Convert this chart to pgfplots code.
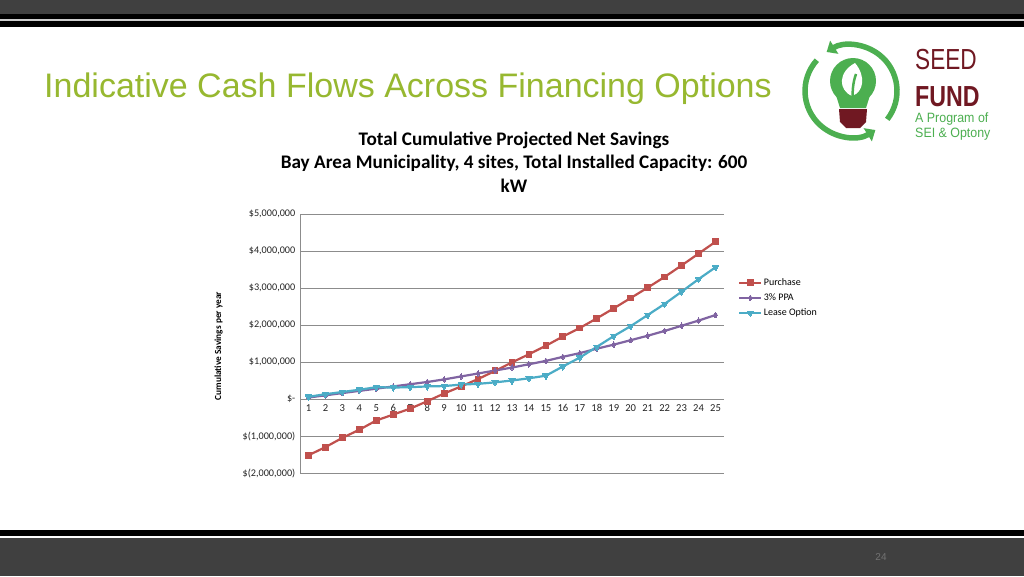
\documentclass[border=0pt]{standalone}
\usepackage{pgfplots}
\pgfplotsset{compat=1.18}
\usepackage{fontspec}
\setmainfont{Liberation Sans}
\newfontfamily\carlito{Carlito}
\usetikzlibrary{arrows.meta}

\definecolor{bargray}{RGB}{64,64,64}
\definecolor{slidegreen}{RGB}{151,184,48}
\definecolor{logogreen}{RGB}{76,175,80}
\definecolor{logomaroon}{RGB}{112,24,34}
\definecolor{cpurchase}{RGB}{192,80,77}
\definecolor{cppa}{RGB}{128,100,162}
\definecolor{clease}{RGB}{75,172,198}
\definecolor{gridgray}{RGB}{140,140,140}

\begin{document}
\begin{tikzpicture}
\begin{scope}[x=1pt,y=-1pt]
\useasboundingbox (0,0) rectangle (1024,576);
\fill[white] (0,0) rectangle (1024,576);
% slide frame
\fill[bargray] (0,0) rectangle (1024,14);
\fill[black] (0,14) rectangle (1024,19);
\fill[black!20] (0,19) rectangle (1024,21);
\fill[black] (0,21) rectangle (1024,27);
\fill[black] (0,530) rectangle (1024,535.5);
\fill[bargray] (0,537.5) rectangle (1024,576);
\node[font=\fontsize{10}{12}\selectfont, text=black!55] at (881,557) {24};

% slide title
\node[anchor=base west, inner sep=0, font=\fontsize{34}{36}\selectfont, text=slidegreen]
  at (44,97) {Indicative Cash Flows Across Financing Options};

% logo
\draw[logogreen, line width=5.5pt, -{Triangle[length=9pt,width=15pt]}] (851,91) ++(222:46) arc[start angle=222, end angle=58, radius=46];
\draw[logogreen, line width=5.5pt, -{Triangle[length=9pt,width=15pt]}] (851,91) ++(38:46) arc[start angle=38, end angle=-122, radius=46];
\fill[logogreen] (853,81) circle[radius=23];
\fill[logogreen] (835,92) -- (871,92) -- (866,108) -- (840,108) -- cycle;
\fill[logomaroon] (839,109) -- (867,109) -- (866,122) -- (860,128) -- (846,128) -- (840,122) -- cycle;
\fill[white] (852,96) .. controls (838,90) and (838,72) .. (855,63) .. controls (866,76) and (864,92) .. (852,96) -- cycle;
\draw[logogreen, line width=2.5pt] (853,104) .. controls (852,92) and (853,82) .. (856,74);
\node[anchor=base west, inner sep=0, text=logomaroon, font=\fontsize{29}{30}\selectfont] at (915,69) {\scalebox{0.78}[1]{SEED}};
\node[anchor=base west, inner sep=0, text=logomaroon, font=\bfseries\fontsize{29}{30}\selectfont] at (915,106) {\scalebox{0.8}[1]{FUND}};
\node[anchor=base west, inner sep=0, text=logogreen, font=\fontsize{13.5}{15}\selectfont] at (915,122) {\scalebox{0.92}[1]{A Program of}};
\node[anchor=base west, inner sep=0, text=logogreen, font=\fontsize{13.5}{15}\selectfont] at (915,137) {\scalebox{0.92}[1]{SEI \& Optony}};

% chart title
\node[align=center, font=\carlito\bfseries\fontsize{19.2}{23.5}\selectfont] at (514,162)
  {Total Cumulative Projected Net Savings\\Bay Area Municipality, 4 sites, Total Installed Capacity: 600\\kW};
\end{scope}

\begin{axis}[
  at={(300pt,-473pt)}, anchor=south west,
  scale only axis, width=424pt, height=259pt,
  xmin=0.5, xmax=25.5,
  ymin=-2000000, ymax=5000000,
  scaled y ticks=false,
  axis x line*=middle, axis y line*=left,
  axis line style={gridgray, line width=0.9pt},
  xtick={1,...,25},
  ytick={-2000000,-1000000,0,1000000,2000000,3000000,4000000,5000000},
  yticklabels={{\$(2,000,000)},{\$(1,000,000)},{\$-\hspace{5pt}},{\$1,000,000},{\$2,000,000},{\$3,000,000},{\$4,000,000},{\$5,000,000}},
  ymajorgrids, grid style={gridgray, line width=0.9pt},
  major tick length=0pt,
  /pgf/number format/assume math mode=true,
  tick label style={font=\carlito\fontsize{10.2}{12}\selectfont, text=black!85},
  yticklabel style={inner sep=0pt, xshift=-4.5pt},
  xticklabel style={inner sep=0pt, anchor=base, yshift=-12.5pt, font=\carlito\fontsize{10.6}{12}\selectfont},
  ylabel={Cumulative Savings per year},
  every axis y label/.style={at={(axis description cs:-0.192,0.49)}, rotate=90, anchor=center, font=\carlito\bfseries\fontsize{9.3}{11}\selectfont},
  legend style={at={(rel axis cs:1.033,0.758)}, anchor=north west, draw=none, fill=none,
    font=\carlito\fontsize{10}{12}\selectfont, row sep=3pt, inner sep=0pt,
    nodes={inner sep=1.5pt, text height=7pt, text depth=2pt}},
  legend cell align=left,
  legend image code/.code={\draw[mark repeat=2, mark phase=2, #1] plot coordinates {(0pt,0pt) (11pt,0pt) (22pt,0pt)};},
  clip=false,
]
\addplot[cpurchase, line width=2.2pt, mark=square*, mark size=2.9pt, mark options={solid, line width=0pt}] coordinates {
 (1,-1520000) (2,-1300000) (3,-1050000) (4,-830000) (5,-580000) (6,-420000) (7,-260000) (8,-60000)
 (9,150000) (10,340000) (11,540000) (12,760000) (13,990000) (14,1210000) (15,1440000) (16,1690000)
 (17,1920000) (18,2180000) (19,2450000) (20,2730000) (21,3010000) (22,3300000) (23,3610000) (24,3930000) (25,4250000)};
\addlegendentry{Purchase}
\addplot[cppa, line width=2.2pt, mark=diamond*, mark size=2.8pt, mark options={solid, line width=0pt}] coordinates {
 (1,40000) (2,100000) (3,160000) (4,220000) (5,280000) (6,340000) (7,400000) (8,460000)
 (9,530000) (10,610000) (11,690000) (12,770000) (13,850000) (14,940000) (15,1030000) (16,1140000)
 (17,1240000) (18,1360000) (19,1470000) (20,1590000) (21,1710000) (22,1840000) (23,1980000) (24,2120000) (25,2270000)};
\addlegendentry{3\% PPA}
\addplot[clease, line width=2.2pt, mark=triangle*, mark size=3.6pt, mark options={solid, line width=0pt, rotate=180}] coordinates {
 (1,60000) (2,130000) (3,190000) (4,250000) (5,320000) (6,310000) (7,320000) (8,340000)
 (9,350000) (10,390000) (11,410000) (12,450000) (13,500000) (14,560000) (15,630000) (16,880000)
 (17,1120000) (18,1410000) (19,1700000) (20,1970000) (21,2270000) (22,2570000) (23,2900000) (24,3240000) (25,3560000)};
\addlegendentry{Lease Option}
\end{axis}
\end{tikzpicture}
\end{document}
